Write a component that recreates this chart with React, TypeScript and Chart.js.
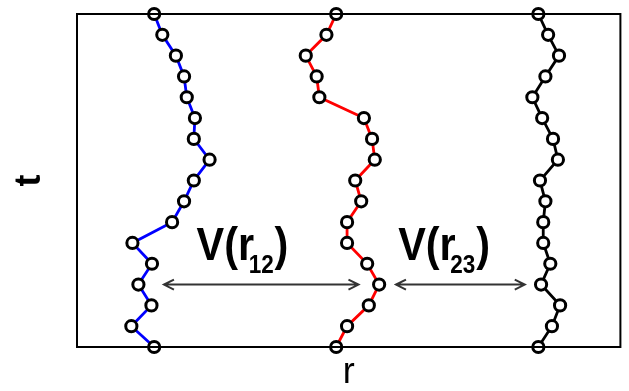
import React, { useEffect, useRef } from "react";
import { Chart, registerables } from "chart.js";

Chart.register(...registerables);

// imaginary-time slices (bottom to top)
const tSteps = [0, 1, 2, 3, 4, 5, 6, 7, 8, 9, 10, 11, 12, 13, 14, 15, 16];
// bead positions r of the three worldlines, one per time slice
const chainBlueR = [14.2, 10.0, 13.7, 11.3, 13.8, 10.2, 17.5, 19.7, 21.5, 24.4, 21.5, 21.7, 20.2, 19.7, 18.2, 15.7, 14.2];
const chainRedR = [47.7, 49.7, 53.7, 55.6, 53.4, 49.7, 49.7, 52.3, 51.2, 54.8, 54.3, 52.8, 44.6, 44.1, 42.1, 45.9, 47.7];
const chainBlackR = [84.9, 87.4, 88.9, 85.4, 87.1, 85.8, 85.8, 86.2, 85.2, 88.5, 87.6, 85.6, 83.8, 86.2, 88.7, 86.7, 84.9];
const seriesNames = ["Particle 1", "Particle 2", "Particle 3"];
const seriesColors = ["#0000ff", "#ff0000", "#000000"];
const rangeR = [0, 100];
const rangeT = [0, 16];
const axisTitles = ["r", "t"];
// interaction annotations
const potentialSubs = ["12", "23"];
const arrowT = 3;
const arrowFromR = [16.0, 58.7];
const arrowToR = [51.8, 82.4];
const labelR = [22.0, 59.1];
const labelT = 4.18;

const FONT = '"Liberation Sans", Arial, Helvetica, sans-serif';

const overlay = {
  id: "overlay",
  afterDatasetsDraw(chart: any) {
    const { ctx, chartArea: a, scales } = chart;
    const x = scales.x;
    const y = scales.y;
    ctx.save();
    ctx.strokeStyle = "#000";
    ctx.lineWidth = 2;
    ctx.strokeRect(a.left, a.top, a.right - a.left, a.bottom - a.top);

    // double-headed arrows
    ctx.strokeStyle = "#333";
    ctx.lineWidth = 2;
    const yy = y.getPixelForValue(arrowT);
    for (let i = 0; i < arrowFromR.length; i++) {
      const x1 = x.getPixelForValue(arrowFromR[i]);
      const x2 = x.getPixelForValue(arrowToR[i]);
      ctx.beginPath();
      ctx.moveTo(x1, yy);
      ctx.lineTo(x2, yy);
      ctx.moveTo(x1 + 10, yy - 5);
      ctx.lineTo(x1, yy);
      ctx.lineTo(x1 + 10, yy + 5);
      ctx.moveTo(x2 - 10, yy - 5);
      ctx.lineTo(x2, yy);
      ctx.lineTo(x2 - 10, yy + 5);
      ctx.stroke();
    }

    // V(r_ij) labels, slightly condensed
    ctx.fillStyle = "#000";
    ctx.textBaseline = "alphabetic";
    ctx.textAlign = "left";
    const base = y.getPixelForValue(labelT);
    const sq = 0.9;
    for (let i = 0; i < labelR.length; i++) {
      const lx = x.getPixelForValue(labelR[i]);
      ctx.save();
      ctx.translate(lx, base);
      ctx.scale(sq, 1);
      ctx.font = `bold 46px ${FONT}`;
      ctx.fillText("V(r", 0, 0);
      const w = ctx.measureText("V(r").width;
      ctx.font = `bold 25px ${FONT}`;
      const sx = w - 6;
      ctx.fillText(potentialSubs[i], sx, 13);
      const w2 = ctx.measureText(potentialSubs[i]).width;
      ctx.font = `bold 46px ${FONT}`;
      ctx.fillText(")", sx + w2 + 1, 0);
      ctx.restore();
    }
    ctx.restore();
  },
};

export default function App() {
  const ref = useRef<HTMLCanvasElement | null>(null);
  useEffect(() => {
    if (!ref.current) return;
    const chains = [chainBlueR, chainRedR, chainBlackR];
    const chart = new Chart(ref.current, {
      type: "scatter",
      data: {
        datasets: chains.map((c, i) => ({
          label: seriesNames[i],
          data: c.map((r, k) => ({ x: r, y: tSteps[k] })),
          showLine: true,
          borderColor: seriesColors[i],
          borderWidth: 2.8,
          pointRadius: 5.6,
          pointBorderWidth: 3,
          pointBorderColor: "#000",
          pointBackgroundColor: "#fff",
          clip: false,
        })),
      },
      options: {
        responsive: false,
        animation: false,
        layout: { padding: { left: 12, right: 3, top: 14, bottom: 0 } },
        plugins: { legend: { display: false }, tooltip: { enabled: false } },
        scales: {
          x: {
            type: "linear",
            min: rangeR[0],
            max: rangeR[1],
            grid: { display: false, drawTicks: false },
            border: { display: false },
            ticks: { display: false },
            title: {
              display: true,
              text: axisTitles[0],
              color: "#000",
              font: { family: FONT, size: 36, weight: "normal", lineHeight: 1 },
              padding: { top: 8, bottom: 0 },
            },
          },
          y: {
            type: "linear",
            min: rangeT[0],
            max: rangeT[1],
            grid: { display: false, drawTicks: false },
            border: { display: false },
            ticks: { display: false },
            title: {
              display: true,
              text: axisTitles[1],
              color: "#000",
              font: { family: FONT, size: 36, weight: "bold", lineHeight: 1 },
              padding: { top: 0, bottom: 29 },
            },
          },
        },
      },
      plugins: [overlay],
    });
    return () => chart.destroy();
  }, []);
  return (
    <div style={{ position: "fixed", left: 0, top: 0, width: 629, height: 391, background: "#fff" }}>
      <canvas ref={ref} width={629} height={391} style={{ display: "block" }} />
    </div>
  );
}
